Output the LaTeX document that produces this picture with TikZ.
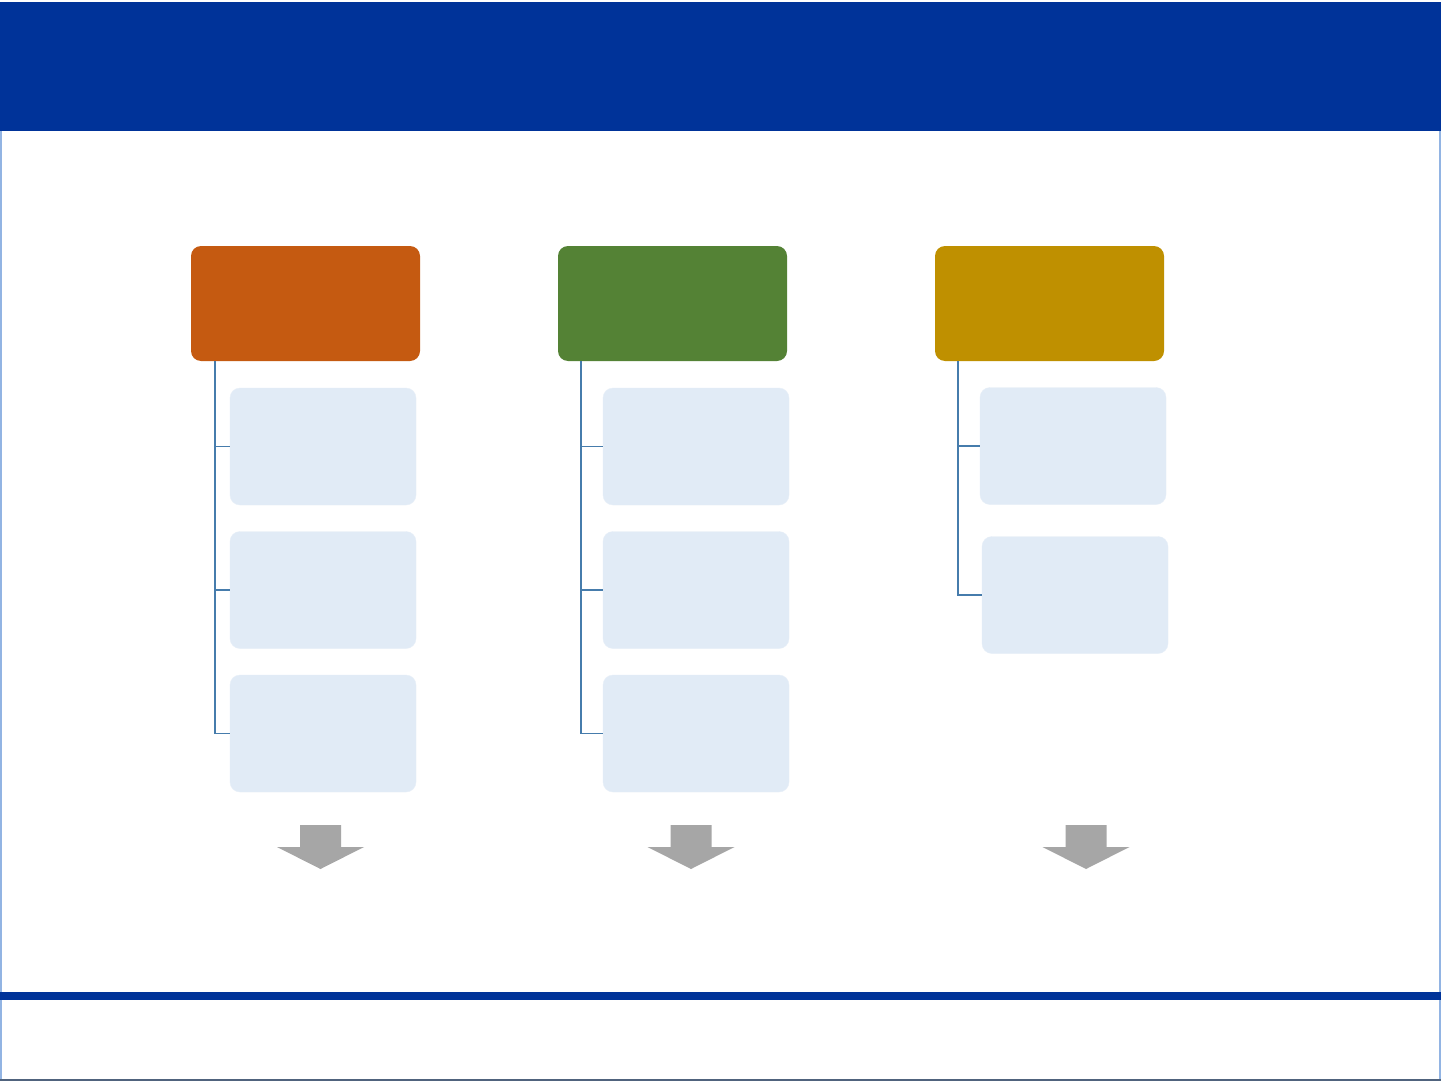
\documentclass[tikz,border=0pt]{standalone}
\usetikzlibrary{positioning}
\definecolor{navy}{RGB}{0,51,153}
\definecolor{rust}{RGB}{197,90,17}
\definecolor{leaf}{RGB}{84,130,53}
\definecolor{ochre}{RGB}{191,144,0}
\definecolor{pale}{RGB}{225,235,246}
\definecolor{steel}{RGB}{70,124,172}
\definecolor{framebl}{RGB}{146,180,227}
\tikzset{
  head/.style={rounded corners=10pt, minimum width=229pt, minimum height=115pt, inner sep=0pt},
  item/.style={fill=pale, draw=pale!80!white, rounded corners=10pt, minimum width=186pt, minimum height=117pt, inner sep=0pt},
  edge/.style={draw=steel, line width=1.4pt},
  down/.style={fill=black!35},
}

\begin{document}
\begin{tikzpicture}[x=1pt, y=-1pt]
  \useasboundingbox (0,0) rectangle (1441,1081);
  % ---- page frame and bars -------------------------------------------------
  \fill[white] (0,0) rectangle (1441,1081);
  \draw[framebl, line width=1.5pt] (0.75,131) -- (0.75,1080.25) (1439.75,131) -- (1439.75,1080.25);
  \draw[black!45!framebl, line width=1.5pt] (0,1080) -- (1441,1080);
  \fill[navy] (0,2) rectangle (1441,131);
  \fill[navy] (0,992) rectangle (1441,1000);

  % ---- column heads ----------------------------------------------------------
  \node[head, fill=rust]  (hd1) at (305.5,303.5) {};
  \node[head, fill=leaf]  (hd2) at (672.5,303.5) {};
  \node[head, fill=ochre] (hd3) at (1049.5,303.5) {};

  % ---- items under each head -------------------------------------------------
  \node[item] (c11) at (323,446.5) {};
  \node[item] (c12) at (323,590) {};
  \node[item] (c13) at (323,733.5) {};
  \node[item] (c21) at (696,446.5) {};
  \node[item] (c22) at (696,590) {};
  \node[item] (c23) at (696,733.5) {};
  \node[item] (c31) at (1073,446) {};
  \node[item] (c32) at (1075,595) {};

  % ---- tree edges ------------------------------------------------------------
  \foreach \c in {c11,c12,c13} \draw[edge] ([xshift=24pt]hd1.south west) |- (\c.west);
  \foreach \c in {c21,c22,c23} \draw[edge] ([xshift=23pt]hd2.south west) |- (\c.west);
  \foreach \c in {c31,c32} \draw[edge] ([xshift=23pt]hd3.south west) |- (\c.west);

  % ---- down arrows -----------------------------------------------------------
  \foreach \x in {320.5,691,1086}
    \fill[down] (\x-20.5,825) -- (\x+20.5,825) -- (\x+20.5,847) -- (\x+43.5,847)
      -- (\x,869) -- (\x-43.5,847) -- (\x-20.5,847) -- cycle;
\end{tikzpicture}
\end{document}
